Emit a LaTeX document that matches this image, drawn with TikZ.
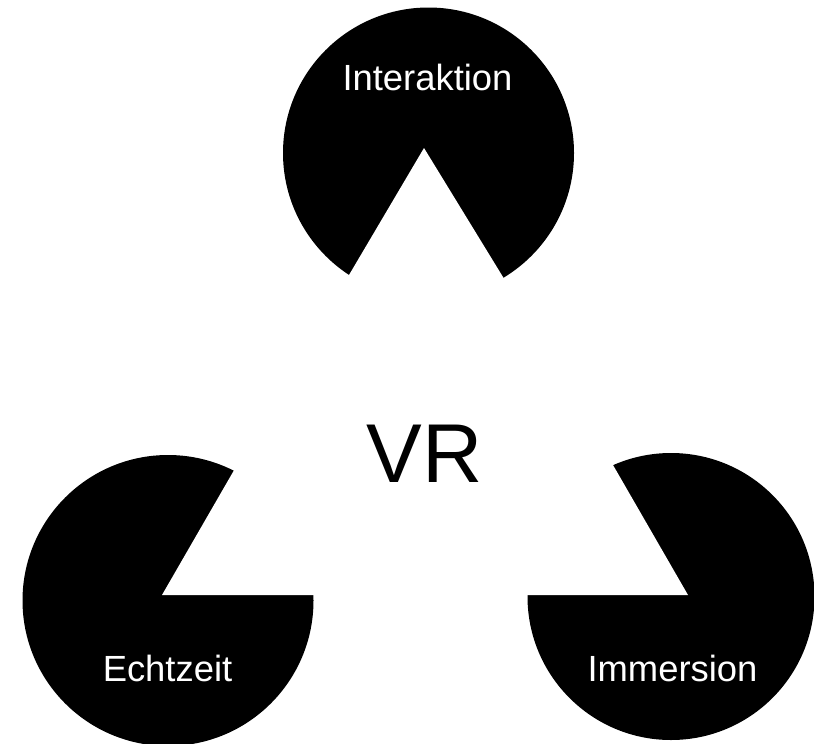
\documentclass[tikz,border=0pt]{standalone}
\usepackage{fontspec}
\setmainfont{Liberation Sans}
\begin{document}
\begin{tikzpicture}[x=1pt,y=-1pt,
  pac/.style={fill=black,draw=none},
  notch/.style={fill=white,draw=none},
  lbl/.style={text=white,anchor=base,inner sep=0pt,font=\fontsize{36.4}{40}\selectfont},
  big/.style={text=black,anchor=base,inner sep=0pt,font=\fontsize{83.5}{90}\selectfont}]
\useasboundingbox (0,0) rectangle (814,744);
% top pac-man
\coordinate (tc) at (428.5,153);
\fill[pac] (tc) circle[radius=145.5];
\fill[notch] (424,148) -- (311.5,338.5) -- (542.5,341.5) -- cycle;
% bottom-left pac-man
\coordinate (lc) at (168,600.5);
\fill[pac] (lc) circle[radius=145.5];
\fill[notch] (162,595) -- (345,595) -- (268.5,410.5) -- cycle;
% bottom-right pac-man
\coordinate (rc) at (671,596.5);
\fill[pac] (rc) circle[radius=143.5];
\fill[notch] (688,595) -- (505,595) -- (575.5,400) -- cycle;
% labels
\node[lbl] (inter) at (427.5,90) {Interaktion};
\node[lbl] (echt) at (167.5,681) {Echtzeit};
\node[lbl] (imm) at (672.5,681) {Immersion};
\node[big] (vr) at (424.5,482) {VR};
\end{tikzpicture}
\end{document}
